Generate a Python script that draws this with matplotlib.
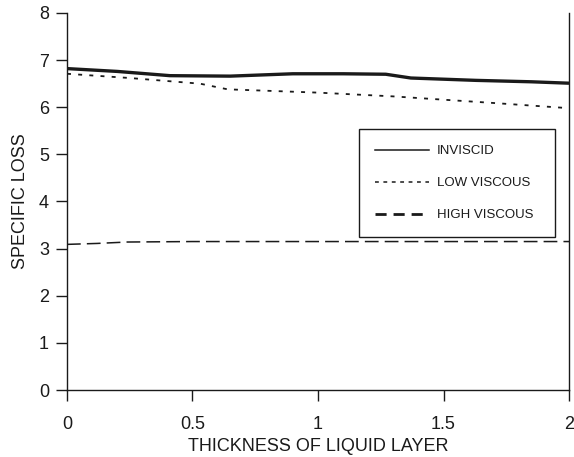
import matplotlib.pyplot as plt
from matplotlib.lines import Line2D

plt.rcParams['font.family'] = ['Liberation Sans', 'DejaVu Sans']

# specific loss vs thickness of liquid layer
x_inviscid = [0, 0.2, 0.41, 0.65, 0.9, 1.1, 1.27, 1.37, 1.63, 1.85, 2.0]
y_inviscid = [6.82, 6.76, 6.67, 6.66, 6.71, 6.71, 6.70, 6.62, 6.57, 6.54, 6.51]

x_low = [0, 0.25, 0.53, 0.64, 1.0, 1.3, 1.7, 2.0]
y_low = [6.71, 6.62, 6.50, 6.38, 6.31, 6.23, 6.09, 5.98]

x_high = [0, 0.12, 0.24, 0.5, 1.0, 1.5, 2.0]
y_high = [3.09, 3.11, 3.14, 3.15, 3.15, 3.15, 3.15]

labels = ['INVISCID', 'LOW VISCOUS', 'HIGH VISCOUS']
ink = '#1a1a1a'
dotted = (0, (2.2, 4.0))
dashed = (0, (9, 4))

fig = plt.figure(figsize=(5.74, 4.57), dpi=100)
ax = fig.add_axes([0.1167, 0.1466, 0.8746, 0.825])

ax.plot(x_inviscid, y_inviscid, color=ink, lw=2.4, solid_capstyle='butt')
ax.plot(x_low, y_low, color=ink, lw=1.3, linestyle=dotted)
ax.plot(x_high, y_high, color=ink, lw=1.1, linestyle=dashed)

ax.set_xlim(0, 2)
ax.set_ylim(0, 8)
ax.set_xticks([0, 0.5, 1, 1.5, 2])
ax.set_xticklabels(['0', '0.5', '1', '1.5', '2'])
ax.set_yticks(range(9))
ax.spines['top'].set_visible(False)
for s in ['left', 'right', 'bottom']:
    ax.spines[s].set_color(ink)
    ax.spines[s].set_linewidth(1.0)
ax.tick_params(direction='out', length=8, width=1.0, color=ink,
               labelsize=13, labelcolor=ink)
ax.tick_params(axis='x', pad=11)
ax.tick_params(axis='y', pad=5)
ax.set_xlabel('THICKNESS OF LIQUID LAYER', fontsize=13, color=ink, labelpad=3)
ax.set_ylabel('SPECIFIC LOSS', fontsize=13, color=ink, labelpad=7)

handles = [
    Line2D([], [], color=ink, lw=1.1),
    Line2D([], [], color=ink, lw=1.1, linestyle=(0, (2.5, 3))),
    Line2D([], [], color=ink, lw=2.0, linestyle=(0, (4, 2.5))),
]
leg = ax.legend(handles, labels, loc='upper left',
                bbox_to_anchor=(0.582, 0.419, 0.39, 0.273), mode='expand',
                borderaxespad=0, fontsize=9.5, frameon=True, fancybox=False,
                handlelength=4.1, handletextpad=0.6, labelspacing=1.5,
                borderpad=1.2, framealpha=1)
leg.get_frame().set_edgecolor(ink)
leg.get_frame().set_linewidth(1.0)
for t in leg.get_texts():
    t.set_color(ink)

fig.savefig('out.png', dpi=100)
